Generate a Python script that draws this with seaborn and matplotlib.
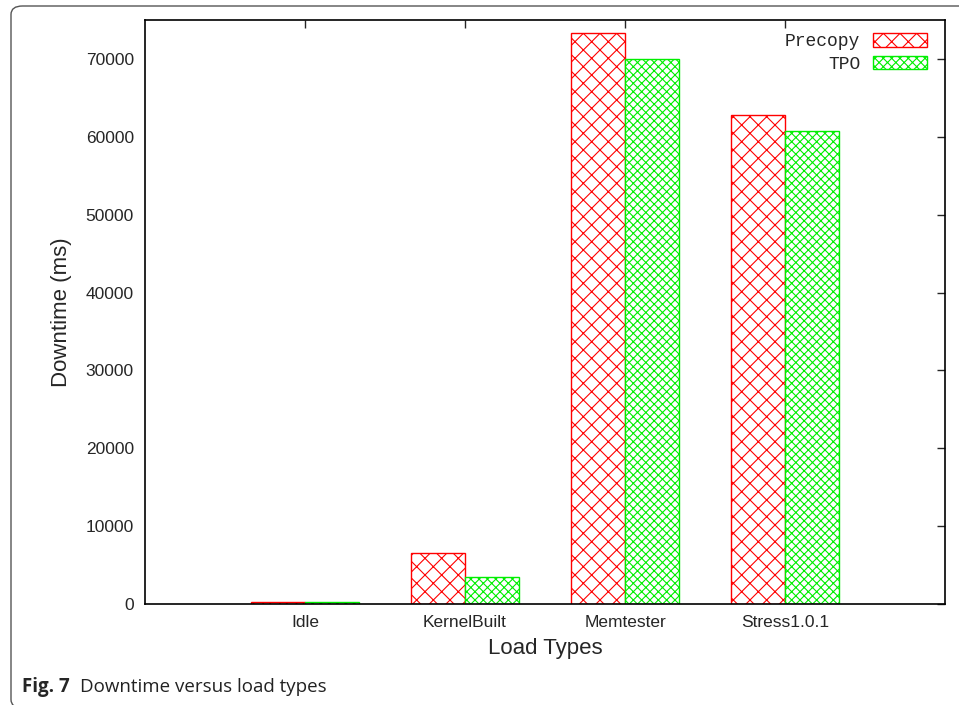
import pandas as pd
import matplotlib.pyplot as plt
import seaborn as sns
from matplotlib.patches import FancyBboxPatch, Patch

sns.set_style('white')
plt.rcParams['font.family'] = ['Liberation Sans', 'DejaVu Sans']
plt.rcParams['hatch.linewidth'] = 0.8

loads = ['Idle', 'KernelBuilt', 'Memtester', 'Stress1.0.1']
precopy = [300, 6550, 73300, 62850]
tpo = [280, 3480, 70000, 60750]
methods = ['Precopy', 'TPO']
colors = ['#ff0000', '#00ee00']
hatches = ['xx', 'xxxx']

df = pd.DataFrame({
    'load': loads * 2,
    'downtime': precopy + tpo,
    'method': ['Precopy'] * 4 + ['TPO'] * 4,
})

fig = plt.figure(figsize=(9.59, 7.05), dpi=100)
ax = fig.add_axes([145 / 959, 1 - 604 / 705, 800 / 959, 584 / 705])

sns.barplot(data=df, x='load', y='downtime', hue='method', order=loads,
            hue_order=methods, width=0.67, ax=ax, legend=False)

# gnuplot-ish hatched bars
for container, col, h in zip(ax.containers, colors, hatches):
    for bar in container:
        bar.set_facecolor('white')
        bar.set_edgecolor(col)
        bar.set_hatch(h)
        bar.set_linewidth(1.0)

ax.set_xlim(-1, 4)
ax.set_ylim(0, 75000)
ax.set_yticks(range(0, 75000, 10000))
ax.tick_params(direction='in', length=6, top=True, right=True,
               labelsize=12.5, pad=8, width=1)
for s in ax.spines.values():
    s.set_linewidth(1.2)
    s.set_color('black')
ax.set_xlabel('Load Types', fontsize=16, labelpad=6)
ax.set_ylabel('Downtime (ms)', fontsize=16, labelpad=10)

handles = [Patch(facecolor='white', edgecolor=c, hatch=h, label=m)
           for m, c, h in zip(methods, colors, hatches)]
ax.legend(handles=handles, loc='upper right', frameon=False, markerfirst=False,
          prop={'family': 'Liberation Mono', 'size': 13}, handlelength=3.0,
          handleheight=0.75, labelspacing=0.3, handletextpad=0.7,
          bbox_to_anchor=(0.998, 1.005))

# figure frame with rounded corners, open at the bottom edge
frame = FancyBboxPatch((11 / 959, -3 / 705), 1.1, 1 - 3 / 705,
                       boxstyle='round,pad=0,rounding_size=0.012',
                       transform=fig.transFigure, fill=False,
                       edgecolor='#555555', linewidth=1.0)
fig.patches.append(frame)

fig.text(22 / 959, 1 - 687 / 705, 'Fig. 7', fontsize=13.5, fontweight='bold',
         family='Open Sans', va='center')
fig.text(80 / 959, 1 - 687 / 705, 'Downtime versus load types', fontsize=13.5,
         family='Open Sans', va='center', color='#222222')

plt.savefig('out.png', dpi=100)
